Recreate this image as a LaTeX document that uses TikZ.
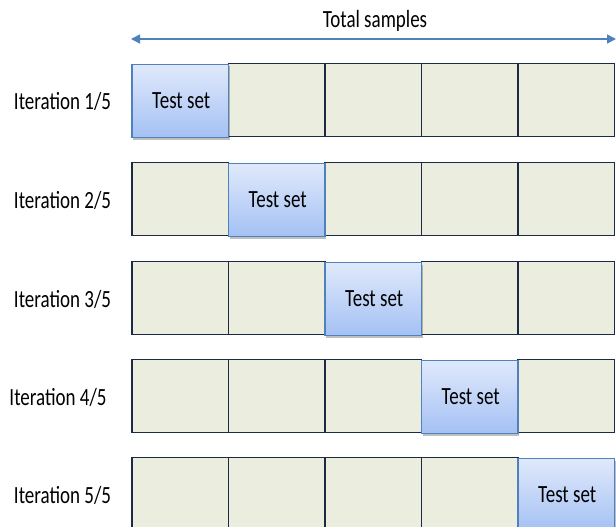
\documentclass[tikz,border=0pt]{standalone}
\usepackage{fontspec}
\setmainfont{Carlito}
\usetikzlibrary{arrows.meta,shadows}
\definecolor{cellfill}{HTML}{EBEEDE}
\definecolor{cellline}{HTML}{1C2A44}
\definecolor{testtop}{HTML}{E0E9FB}
\definecolor{testbot}{HTML}{A4C1F4}
\definecolor{testline}{HTML}{4F81BD}
\definecolor{arrowblue}{HTML}{4F81BD}
\newcommand{\tallt}[1]{\scalebox{1}[1.3]{#1}}
\tikzset{
  cell/.style={draw=cellline, line width=1.2pt, fill=cellfill, minimum width=96.5pt, minimum height=73pt, inner sep=0pt, outer sep=0pt},
  testcell/.style={draw=testline, line width=1.2pt, top color=testtop, bottom color=testbot, minimum width=96.5pt, minimum height=73pt, inner sep=0pt, outer sep=0pt, font=\fontsize{19}{21}\selectfont, drop shadow={shadow xshift=1pt, shadow yshift=-2pt, opacity=0.25, fill=black}},
  itlabel/.style={font=\fontsize{19}{21}\selectfont, anchor=center, inner sep=0pt},
  span/.style={draw=arrowblue, line width=1.6pt, {Triangle[length=9pt,width=9pt]}-{Triangle[length=9pt,width=9pt]}}
}
\begin{document}
\begin{tikzpicture}[x=1pt,y=-1pt]
\useasboundingbox (0,0) rectangle (616,527);
\coordinate (al) at (131,39);
\coordinate (ar) at (616,39);
\draw[span] (al) -- (ar);
\node[itlabel] (total) at (375,21) {\tallt{Total samples}};
\foreach \r/\yc/\lx in {1/100/62.5,2/199/62.5,3/298/62.5,4/396/58,5/494/62.5}{
  \node[itlabel] (lab\r) at (\lx,\yc+1) {\tallt{Iteration \r/5}};
  \foreach \c in {1,...,5}{
    \ifnum\c=\r\else
      \node[cell] (c\r\c) at ({132+96.5*(\c-0.5)},\yc) {};
    \fi
  }
  \node[testcell] (t\r) at ({132+96.5*(\r-0.5)},\yc+1) {\hspace*{2pt}\tallt{Test set}};
}
\end{tikzpicture}
\end{document}
